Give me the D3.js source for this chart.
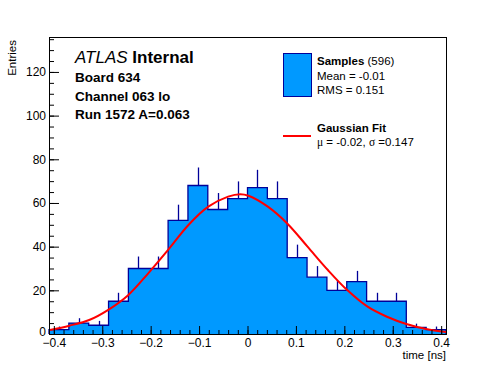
<!DOCTYPE html>
<html>
<head>
<meta charset="utf-8">
<script src="https://cdn.jsdelivr.net/npm/d3@7"></script>
<style>
  body { margin: 0; background: #fff; }
  svg { display: block; font-family: "Liberation Sans", Arial, sans-serif; }
</style>
</head>
<body>
<div id="chart"></div>
<script>
// histogram bins (ns) and counts
const binEdges = [-0.41, -0.369, -0.328, -0.287, -0.246, -0.205, -0.164, -0.123, -0.082, -0.041,
  0, 0.041, 0.082, 0.123, 0.164, 0.205, 0.246, 0.287, 0.328, 0.369, 0.41]
const binCounts = [2, 5, 4, 15, 30, 30, 52, 68, 57, 62, 67, 62, 35, 26, 20, 24, 15, 15, 3, 2]

// gaussian fit curve
const fitX = [-0.408, -0.368, -0.327, -0.286, -0.246, -0.205, -0.164, -0.122, -0.081, -0.040, -0.015,
  0.002, 0.042, 0.083, 0.124, 0.166, 0.206, 0.248, 0.288, 0.328, 0.369, 0.41]
const fitY = [1.8, 3.8, 6.4, 11.3, 17.9, 27.8, 38.5, 49.9, 58.3, 62.9, 64.0,
  63.3, 58.3, 50.4, 40.0, 29.3, 20.1, 12.5, 7.9, 4.6, 2.3, 0.9]

const xTicks = [-0.4, -0.3, -0.2, -0.1, 0, 0.1, 0.2, 0.3, 0.4]
const yTicks = [0, 20, 40, 60, 80, 100, 120]

const legendSamples = ["Mean = -0.01", "RMS = 0.151"]

const width = 496, height = 372
const margin = { top: 37, right: 50, bottom: 38, left: 49 }
const boundedWidth = width - margin.left - margin.right
const boundedHeight = height - margin.top - margin.bottom

const fillColor = "#0099ff"
const lineColor = "#000099"

const svg = d3.select("#chart").append("svg")
  .attr("width", width)
  .attr("height", height)

const bounds = svg.append("g")
  .attr("transform", `translate(${margin.left},${margin.top})`)

const xScale = d3.scaleLinear().domain([-0.41, 0.41]).range([0, boundedWidth])
const yScale = d3.scaleLinear().domain([0, 136]).range([boundedHeight, 0])

const bins = binCounts.map((c, i) => ({ x0: binEdges[i], x1: binEdges[i + 1], n: c }))

// step outline points
let stepPts = [[xScale(binEdges[0]), yScale(0)]]
bins.forEach(d => {
  stepPts.push([xScale(d.x0), yScale(d.n)])
  stepPts.push([xScale(d.x1), yScale(d.n)])
})
stepPts.push([xScale(binEdges[binEdges.length - 1]), yScale(0)])

// filled histogram, one shape so no seams
bounds.append("path")
  .attr("d", d3.line()(stepPts) + "Z")
  .attr("fill", fillColor)

// error bars (upper half is the visible part)
bounds.append("g").selectAll("line")
  .data(bins)
  .join("line")
    .attr("x1", d => Math.round(xScale((d.x0 + d.x1) / 2)) + 0.5)
    .attr("x2", d => Math.round(xScale((d.x0 + d.x1) / 2)) + 0.5)
    .attr("y1", d => yScale(d.n))
    .attr("y2", d => yScale(d.n + Math.sqrt(d.n)))
    .attr("stroke", lineColor)
    .attr("stroke-width", 1.3)

bounds.append("path")
  .attr("d", d3.line()(stepPts))
  .attr("fill", "none")
  .attr("stroke", lineColor)
  .attr("stroke-width", 1.3)

// fit
const fitLine = d3.line()
  .x((d, i) => xScale(fitX[i]))
  .y(d => yScale(d))
  .curve(d3.curveCatmullRom)

bounds.append("path")
  .attr("d", fitLine(fitY))
  .attr("fill", "none")
  .attr("stroke", "#ff0000")
  .attr("stroke-width", 2)

// axes: ticks point inward like ROOT
const fmt = d => d === 0 ? "0" : d3.format(".1f")(d)

bounds.append("g")
  .attr("transform", `translate(0,${boundedHeight})`)
  .call(d3.axisBottom(xScale).tickValues(d3.range(-0.40, 0.41, 0.02)).tickSize(-4).tickFormat(""))
bounds.append("g")
  .attr("transform", `translate(0,${boundedHeight})`)
  .call(d3.axisBottom(xScale).tickValues(xTicks).tickSize(-8).tickPadding(4).tickFormat(fmt))

bounds.append("g")
  .call(d3.axisLeft(yScale).tickValues(d3.range(0, 136, 5)).tickSize(-5).tickFormat(""))
const yAxis = bounds.append("g")
  .call(d3.axisLeft(yScale).tickValues(yTicks).tickSize(-10).tickPadding(3).tickFormat(d3.format("d")))

svg.selectAll(".domain").remove()
svg.selectAll(".tick line").attr("stroke", "#000")
svg.selectAll(".tick text").attr("fill", "#000").style("font-size", "12px")
  .style("font-family", "Liberation Sans, Arial, sans-serif")

// the "0" label sits a bit higher so it clears the -0.4 label
yAxis.selectAll(".tick text").filter(d => d === 0).attr("dy", "0.1em")

// frame
bounds.append("rect")
  .attr("x", 0.5).attr("y", 0.5)
  .attr("width", boundedWidth).attr("height", boundedHeight)
  .attr("fill", "none").attr("stroke", "#000").attr("stroke-width", 1)

// axis titles
svg.append("text")
  .attr("x", margin.left + boundedWidth)
  .attr("y", 359)
  .attr("text-anchor", "end")
  .style("font-size", "11.5px")
  .text("time [ns]")

svg.append("text")
  .attr("transform", "translate(16,40) rotate(-90)")
  .attr("text-anchor", "end")
  .style("font-size", "11.5px")
  .text("Entries")

// ATLAS label block
const atlas = svg.append("text").attr("x", 75).attr("y", 63).style("font-size", "17px")
atlas.append("tspan").style("font-style", "italic").text("ATLAS")
atlas.append("tspan").style("font-weight", "bold").text(" Internal")

const infoLines = ["Board 634", "Channel 063 lo", "Run 1572 A=0.063"]
svg.append("g").selectAll("text")
  .data(infoLines)
  .join("text")
    .attr("x", 75)
    .attr("y", (d, i) => 82 + i * 18.5)
    .style("font-size", "13.5px")
    .style("font-weight", "bold")
    .text(d => d)

// legend
const legend = svg.append("g")
legend.append("rect")
  .attr("x", 283.5).attr("y", 53.5).attr("width", 28).attr("height", 43)
  .attr("fill", fillColor).attr("stroke", lineColor).attr("stroke-width", 1)

const s = legend.append("text").attr("x", 317).attr("y", 65).style("font-size", "11.5px")
s.append("tspan").style("font-weight", "bold").text("Samples")
s.append("tspan").text(" (596)")

legend.selectAll(".stat")
  .data(legendSamples)
  .join("text")
    .attr("class", "stat")
    .attr("x", 317)
    .attr("y", (d, i) => 80 + i * 14)
    .style("font-size", "11.5px")
    .text(d => d)

legend.append("line")
  .attr("x1", 283).attr("x2", 311).attr("y1", 136).attr("y2", 136)
  .attr("stroke", "#ff0000").attr("stroke-width", 2)

legend.append("text").attr("x", 317).attr("y", 132)
  .style("font-size", "11.5px").style("font-weight", "bold")
  .text("Gaussian Fit")

const g = legend.append("text").attr("x", 317).attr("y", 146).style("font-size", "11.5px")
g.append("tspan").style("font-family", "Liberation Serif, serif").text("\u03bc")
g.append("tspan").text(" = -0.02, ")
g.append("tspan").style("font-family", "Liberation Serif, serif").text("\u03c3")
g.append("tspan").text(" =0.147")
</script>
</body>
</html>
